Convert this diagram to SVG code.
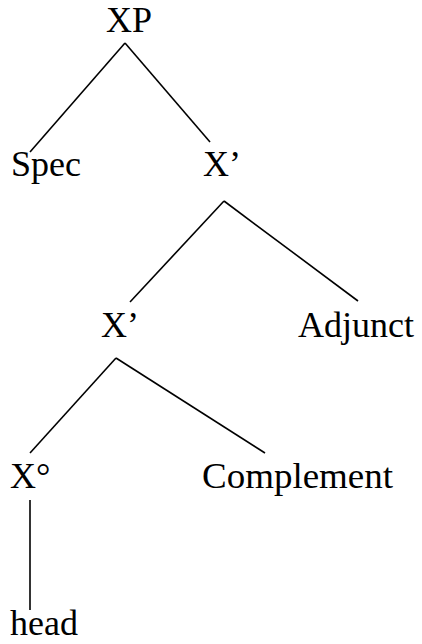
<svg xmlns="http://www.w3.org/2000/svg" width="422" height="644" viewBox="0 0 422 644">
<style>
text{font-family:"Liberation Serif","Times New Roman",serif;font-size:36px;fill:#000}
line{stroke:#000;stroke-width:1.6}
</style>
<rect width="422" height="644" fill="#fff"/>
<g id="connectors">
<line x1="125" y1="43" x2="30" y2="152"/>
<line x1="125" y1="43" x2="210" y2="142"/>
<line x1="224" y1="201" x2="130" y2="302"/>
<line x1="224" y1="201" x2="358" y2="301"/>
<line x1="116" y1="358" x2="30" y2="453"/>
<line x1="116" y1="358" x2="265" y2="453"/>
<line x1="30" y1="500" x2="30" y2="610"/>
</g>
<g id="XP"><text x="106" y="32">XP</text></g>
<g id="Spec"><text x="11" y="176">Spec</text></g>
<g id="Xbar1"><text x="203" y="176">X’</text></g>
<g id="Xbar2"><text x="101" y="337">X’</text></g>
<g id="Adjunct"><text x="298" y="337">Adjunct</text></g>
<g id="X0"><text x="10" y="488">X°</text></g>
<g id="Complement"><text x="202" y="488" textLength="191" lengthAdjust="spacingAndGlyphs">Complement</text></g>
<g id="head"><text x="10" y="635">head</text></g>
</svg>
